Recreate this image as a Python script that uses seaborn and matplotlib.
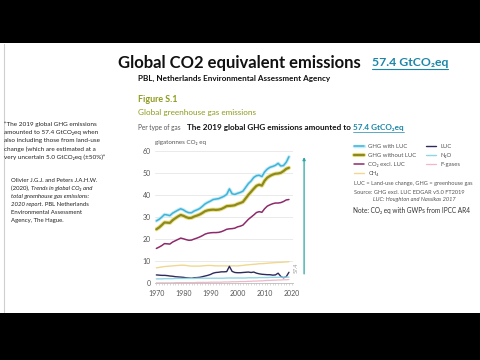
import matplotlib
matplotlib.use("Agg")
import matplotlib.pyplot as plt
import matplotlib.patheffects as pe
import seaborn as sns
import pandas as pd

years = list(range(1970, 2020))

ghg_with_luc = [28.3, 29.0, 30.0, 31.2, 31.0, 30.7, 31.8, 32.5, 33.2, 33.8,
                33.3, 32.5, 32.0, 32.0, 32.8, 33.3, 33.9, 34.9, 36.0, 36.7,
                37.3, 38.0, 38.2, 38.4, 38.9, 39.5, 40.3, 42.8, 40.6, 40.3,
                40.8, 41.2, 41.8, 43.5, 45.2, 46.4, 48.0, 48.8, 49.0, 48.4,
                50.5, 51.8, 52.6, 53.0, 53.5, 54.4, 53.2, 53.4, 54.9, 57.4]
ghg_without_luc = [24.5, 25.3, 26.4, 27.6, 27.5, 27.4, 28.6, 29.5, 30.3, 31.0,
                   30.6, 30.0, 29.6, 29.7, 30.3, 30.7, 31.2, 31.9, 32.7, 33.1,
                   33.3, 33.4, 33.3, 33.4, 33.7, 34.3, 35.0, 35.1, 35.2, 35.4,
                   36.0, 36.4, 36.9, 38.5, 40.1, 41.5, 42.9, 44.2, 44.7, 44.3,
                   46.5, 47.9, 48.7, 49.3, 49.7, 49.8, 50.1, 50.9, 51.9, 52.4]
co2_excl_luc = [15.8, 16.4, 17.1, 18.0, 17.9, 17.8, 18.7, 19.3, 19.9, 20.5,
                20.2, 19.8, 19.5, 19.6, 20.1, 20.5, 21.0, 21.6, 22.3, 22.7,
                22.9, 23.0, 23.0, 23.1, 23.4, 23.9, 24.5, 24.7, 24.8, 25.0,
                25.6, 25.9, 26.4, 27.7, 29.0, 30.0, 31.0, 32.1, 32.5, 32.2,
                33.8, 35.0, 35.6, 36.1, 36.4, 36.4, 36.6, 37.1, 37.8, 38.0]
ch4 = [7.0, 7.2, 7.4, 7.6, 7.7, 7.8, 7.9, 8.0, 8.1, 8.2,
       8.2, 8.1, 7.9, 7.8, 7.8, 7.8, 7.8, 7.9, 8.0, 8.1,
       8.1, 8.0, 7.9, 7.9, 7.9, 7.9, 7.9, 7.9, 7.9, 7.9,
       7.9, 8.0, 8.1, 8.3, 8.4, 8.5, 8.6, 8.7, 8.9, 8.9,
       9.0, 9.1, 9.2, 9.3, 9.4, 9.5, 9.5, 9.6, 9.7, 9.8]
luc = [3.8, 3.7, 3.6, 3.6, 3.5, 3.3, 3.2, 3.0, 2.9, 2.8,
       2.7, 2.5, 2.4, 2.3, 2.5, 2.6, 2.7, 3.0, 3.3, 3.6,
       4.0, 4.6, 4.9, 5.0, 5.2, 5.2, 5.3, 7.7, 5.4, 4.9,
       4.8, 4.8, 4.9, 5.0, 5.1, 4.9, 5.1, 4.6, 4.3, 4.1,
       4.0, 3.9, 3.9, 3.7, 3.8, 4.6, 3.1, 2.5, 3.0, 5.0]
n2o = [2.0, 2.0, 2.0, 2.1, 2.1, 2.1, 2.1, 2.2, 2.2, 2.2,
       2.2, 2.2, 2.2, 2.2, 2.2, 2.3, 2.3, 2.3, 2.3, 2.3,
       2.3, 2.3, 2.3, 2.3, 2.3, 2.3, 2.4, 2.4, 2.4, 2.4,
       2.4, 2.4, 2.4, 2.4, 2.5, 2.5, 2.5, 2.5, 2.6, 2.6,
       2.6, 2.6, 2.7, 2.7, 2.7, 2.7, 2.8, 2.8, 2.8, 2.8]
f_gases = [0.2, 0.2, 0.2, 0.2, 0.2, 0.2, 0.2, 0.3, 0.3, 0.3,
           0.3, 0.3, 0.3, 0.3, 0.3, 0.4, 0.4, 0.4, 0.4, 0.4,
           0.5, 0.5, 0.5, 0.5, 0.5, 0.6, 0.6, 0.6, 0.7, 0.7,
           0.7, 0.8, 0.8, 0.8, 0.9, 0.9, 1.0, 1.0, 1.1, 1.1,
           1.2, 1.3, 1.3, 1.4, 1.4, 1.5, 1.5, 1.6, 1.6, 1.7]

series = {
    "GHG with LUC": ghg_with_luc,
    "GHG without LUC": ghg_without_luc,
    "CO₂ excl. LUC": co2_excl_luc,
    "CH₄": ch4,
    "LUC": luc,
    "N₂O": n2o,
    "F-gases": f_gases,
}
colors = {
    "GHG with LUC": "#3fb4d8",
    "GHG without LUC": "#8c8a1c",
    "CO₂ excl. LUC": "#8e2a6c",
    "CH₄": "#f0d890",
    "LUC": "#2e2a5c",
    "N₂O": "#8fd6e4",
    "F-gases": "#f2b6c8",
}
widths = {"GHG with LUC": 1.1, "GHG without LUC": 1.6, "CO₂ excl. LUC": 1.1,
          "CH₄": 1.0, "LUC": 1.0, "N₂O": 1.0, "F-gases": 0.9}
halos = {"GHG with LUC": "#c8ecf6", "GHG without LUC": "#ece08a"}

df = pd.DataFrame({"year": years, **series}).melt("year", var_name="gas", value_name="value")

sns.set_style("white")
plt.rcParams["font.family"] = ["Lato", "DejaVu Sans"]

fig = plt.figure(figsize=(4.8, 3.6), dpi=100, facecolor="black")

# white slide area between the letterbox bars
fig.patches.append(plt.Rectangle((0, (360 - 313) / 360), 1, 270 / 360,
                                 transform=fig.transFigure, facecolor="white",
                                 edgecolor="none", zorder=-5))
fig.lines.append(plt.Line2D([4 / 480, 4 / 480], [(360 - 312) / 360, (360 - 44) / 360],
                            transform=fig.transFigure, color="#d0d0d0", lw=0.8, zorder=-4))


def px(x, y):
    return x / 480, 1 - y / 360


renderer = fig.canvas.get_renderer()


def chain(x, y, pieces, **kw):
    # put text pieces one after the other on a line, returns end x in pixels
    for text, extra in pieces:
        tt = fig.text(*px(x, y), text, va="center", **kw, **extra)
        x += tt.get_window_extent(renderer).width
    return x


def underline(x0, x1, y, color, lw):
    fig.lines.append(plt.Line2D([x0 / 480, x1 / 480], [1 - y / 360, 1 - y / 360],
                                transform=fig.transFigure, color=color, lw=lw))


grey = "#555555"
teal = "#1b86a8"
olive = "#8f9a1c"

# titles
fig.text(*px(118, 63), "Global CO2 equivalent emissions", fontsize=12,
         fontweight="bold", color="#111111", va="center")
t = fig.text(*px(372, 63), "57.4 GtCO₂eq", fontsize=8.8, fontweight="bold",
             color=teal, va="center")
underline(372, 372 + t.get_window_extent(renderer).width, 69, teal, 0.8)
fig.text(*px(138, 78), "PBL, Netherlands Environmental Assessment Agency",
         fontsize=5.9, fontweight="bold", color="#111111", va="center")
fig.text(*px(138, 100), "Figure S.1", fontsize=6.4, fontweight="bold", color=olive, va="center")
fig.text(*px(138, 113), "Global greenhouse gas emissions", fontsize=5.9, color=olive, va="center")
fig.text(*px(138, 127), "Per type of gas", fontsize=4.7, color=grey, va="center")
x_end = chain(187, 127, [("The 2019 global GHG emissions amounted to ", {"color": "#111111"})],
              fontsize=5.9, fontweight="bold")
x_fin = chain(x_end, 127, [("57.4 GtCO₂eq", {"color": teal})], fontsize=5.9, fontweight="bold")
underline(x_end, x_fin, 131.5, teal, 0.5)
fig.text(*px(155, 143), "gigatonnes CO₂ eq", fontsize=4.5, color=grey, va="center")

# left column
quote = ["\u201cThe 2019 global GHG emissions",
         "amounted to 57.4 GtCO₂eq when",
         "also including those from land-use",
         "change (which are estimated at a",
         "very uncertain 5.0 GtCO₂eq (\u00b150%)\u201d"]
for i, line in enumerate(quote):
    fig.text(*px(4, 124 + i * 8.4), line, fontsize=4.6, color="#222222", va="center")

ref_lines = [
    [("Olivier J.G.J. and Peters J.A.H.W.", {})],
    [("(2020), ", {}), ("Trends in global CO₂ and", {"style": "italic"})],
    [("total greenhouse gas emissions:", {"style": "italic"})],
    [("2020 report", {"style": "italic"}), (". PBL Netherlands", {})],
    [("Environmental Assessment", {})],
    [("Agency, The Hague.", {})],
]
for i, pieces in enumerate(ref_lines):
    chain(11, 181 + i * 7.8, pieces, fontsize=4.3, color="#222222")

# chart
ax = fig.add_axes([155 / 480, 1 - 283.3 / 360, 138 / 480, 132.3 / 360])
ax.set_zorder(3)
ax.set_facecolor("none")
for name in series:
    sub = df[df["gas"] == name]
    line_kw = {}
    if name in halos:
        line_kw["path_effects"] = [pe.Stroke(linewidth=widths[name] + 1.4, foreground=halos[name]),
                                   pe.Normal()]
    sns.lineplot(data=sub, x="year", y="value", ax=ax, color=colors[name],
                 lw=widths[name], label=name, legend=False, **line_kw)

ax.set_xlim(1969.5, 2020.5)
ax.set_ylim(0, 60)
ax.set_yticks(range(0, 61, 10))
ax.set_xticks(range(1970, 2021, 10))
ax.set_xticks(range(1970, 2021), minor=True)
ax.yaxis.grid(True, color="#e6e6e6", lw=0.6)
ax.set_axisbelow(True)
for s in ["top", "right", "left"]:
    ax.spines[s].set_visible(False)
ax.spines["bottom"].set_color("#bbbbbb")
ax.spines["bottom"].set_linewidth(0.6)
ax.tick_params(axis="both", labelsize=5, colors=grey, length=0, pad=3)
ax.tick_params(axis="x", which="both", bottom=True, length=1.5, width=0.4, color="#bbbbbb")
ax.set_xlabel("")
ax.set_ylabel("")

# range arrow for the 2019 total
ax.annotate("", xy=(2024.6, 58.5), xytext=(2024.6, 3), xycoords="data",
            arrowprops=dict(arrowstyle="-|>", color="#2aa6a6", lw=0.9,
                            mutation_scale=4), annotation_clip=False)
ax.text(2021.6, 7, "57.4", rotation=90, fontsize=3.8, color="#999999",
        ha="center", va="center", clip_on=False)

# legend
handles, labels = ax.get_legend_handles_labels()
leg = fig.legend(handles, labels, ncol=2, loc="upper left", bbox_to_anchor=px(354, 144),
                 frameon=False, fontsize=4.3, handlelength=1.6, handletextpad=0.8,
                 columnspacing=1.6, labelspacing=0.62, borderaxespad=0, borderpad=0)
for txt in leg.get_texts():
    txt.set_color(grey)

fig.text(*px(354, 184), "LUC = Land-use change, GHG = greenhouse gas", fontsize=4.1,
         color=grey, va="center")
fig.text(*px(354, 193), "Source: GHG excl. LUC EDGAR v5.0 FT2019", fontsize=4.1,
         color=grey, va="center")
fig.text(*px(373, 199), "LUC: Houghton and Nassikas 2017", fontsize=4.1, style="italic",
         color=grey, va="center")
fig.text(*px(353, 210), "Note: CO₂ eq with GWPs from IPCC AR4", fontsize=4.7,
         color="#333333", va="center")

fig.savefig("out.png", dpi=100, facecolor="black")
